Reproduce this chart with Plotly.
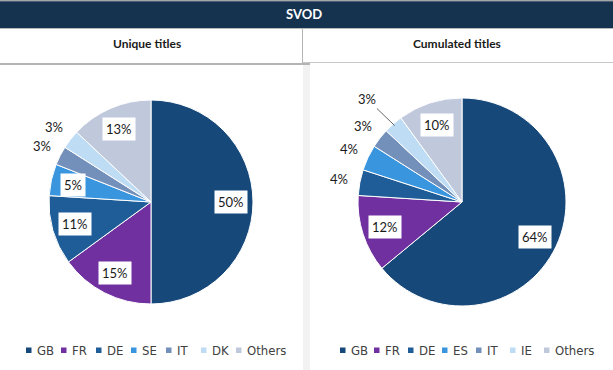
import math
import plotly.graph_objects as go

# ---------------- data ----------------
unique_labels = ["GB", "FR", "DE", "SE", "IT", "DK", "Others"]
unique_values = [50, 15, 11, 5, 3, 3, 13]

cum_labels = ["GB", "FR", "DE", "ES", "IT", "IE", "Others"]
cum_values = [64, 12, 4, 4, 3, 3, 10]

banner_title = "SVOD"
panel_titles = ["Unique titles", "Cumulated titles"]

# ---------------- style ----------------
W, H = 613, 370
colors = ["#17487a", "#7030a0", "#1f5d98", "#3a95df", "#7390bb", "#bedcf4", "#c0c8dc"]
FONT = "Lato, 'Open Sans', Arial, sans-serif"
LEGEND_FONT = "'Liberation Sans Narrow', 'DejaVu Sans Condensed', Arial, sans-serif"

# pie geometry (pixels): centre x, centre y, radius; legend start x and pitch
pies = [
    dict(labels=unique_labels, values=unique_values, cx=151, cy=202, r=102,
         leg_x=26, leg_pitch=35, leader=None),
    dict(labels=cum_labels, values=cum_values, cx=462, cy=202, r=104,
         leg_x=340, leg_pitch=34, leader="IE"),
]

fig = go.Figure()
annotations = []
shapes = []


def px_rect(x0, y0, x1, y1, fill, layer="below"):
    return dict(type="rect", xref="paper", yref="paper", x0=x0 / W, x1=x1 / W,
                y0=1 - y1 / H, y1=1 - y0 / H, fillcolor=fill, line=dict(width=0), layer=layer)


def ann(x, y, text, **kw):
    d = dict(x=x / W, y=1 - y / H, xref="paper", yref="paper", text=text,
             showarrow=False, xanchor="center", yanchor="middle")
    d.update(kw)
    return d


for p in pies:
    cx, cy, r = p["cx"], p["cy"], p["r"]
    fig.add_trace(go.Pie(
        labels=p["labels"], values=p["values"],
        sort=False, direction="clockwise", rotation=0,
        marker=dict(colors=colors, line=dict(color="white", width=1)),
        textinfo="none", hoverinfo="label+percent",
        domain=dict(x=[(cx - r) / W, (cx + r) / W], y=[1 - (cy + r) / H, 1 - (cy - r) / H]),
        showlegend=False,
    ))
    total = sum(p["values"])
    cum = 0
    for lab, v in zip(p["labels"], p["values"]):
        frac = v / total
        mid = (cum + frac / 2) * 2 * math.pi
        cum += frac
        sx, sy = math.sin(mid), -math.cos(mid)
        txt = f"{round(frac * 100)}%"
        lbl_font = dict(family=FONT, size=13, color="#1a1a1a")
        if frac >= 0.05:
            rf = 0.78
            annotations.append(ann(cx + sx * r * rf, cy + sy * r * rf, txt,
                                   bgcolor="white", borderpad=3, font=lbl_font))
        elif lab == p["leader"]:
            hx, hy = cx + sx * r * 0.98, cy + sy * r * 0.98
            lx, ly = cx + sx * r * 1.38, cy + sy * r * 1.32
            d = ann(hx, hy, txt, font=lbl_font)
            d.update(showarrow=True, ax=lx - hx, ay=ly - hy, arrowhead=0,
                     arrowwidth=0.8, arrowcolor="#404040")
            annotations.append(d)
        else:
            rf = 1.2
            annotations.append(ann(cx + sx * r * rf, cy + sy * r * rf, txt, font=lbl_font))
    # legend row (squares + labels)
    for i, lab in enumerate(p["labels"]):
        lx = p["leg_x"] + i * p["leg_pitch"]
        shapes.append(px_rect(lx, 347.5, lx + 5.5, 353, colors[i], layer="above"))
        annotations.append(ann(lx + 9, 350, lab, xanchor="left",
                               font=dict(family=LEGEND_FONT, size=13, color="#404040")))

# header texts
annotations.append(ann(304, 14, f"<b>{banner_title}</b>",
                       font=dict(family=FONT, size=13, color="white")))
annotations.append(ann(147, 43, f"<b>{panel_titles[0]}</b>",
                       font=dict(family=FONT, size=12, color="#1a1a1a")))
annotations.append(ann(457, 43, f"<b>{panel_titles[1]}</b>",
                       font=dict(family=FONT, size=12, color="#1a1a1a")))

shapes += [
    px_rect(0, 0, W, 1.2, "#a6a6a6"),
    px_rect(0, 1.2, W, 28, "#15324f"),
    px_rect(0, 28, W, 29, "#b8b8b8"),
    px_rect(303, 65, 310, H, "#f2f2f2"),
    px_rect(0, 63, 310, 65, "#b4b4b4"),
    px_rect(303, 62, W, 63, "#c8c8c8"),
    px_rect(302, 29, 303, 65, "#b4b4b4"),
]

fig.update_layout(
    width=W, height=H, margin=dict(l=0, r=0, t=0, b=0),
    paper_bgcolor="white", plot_bgcolor="white",
    annotations=annotations, shapes=shapes, showlegend=False,
)

fig.write_html("out.html", config={"displayModeBar": False},
               post_script="document.body.style.margin='0px';")
